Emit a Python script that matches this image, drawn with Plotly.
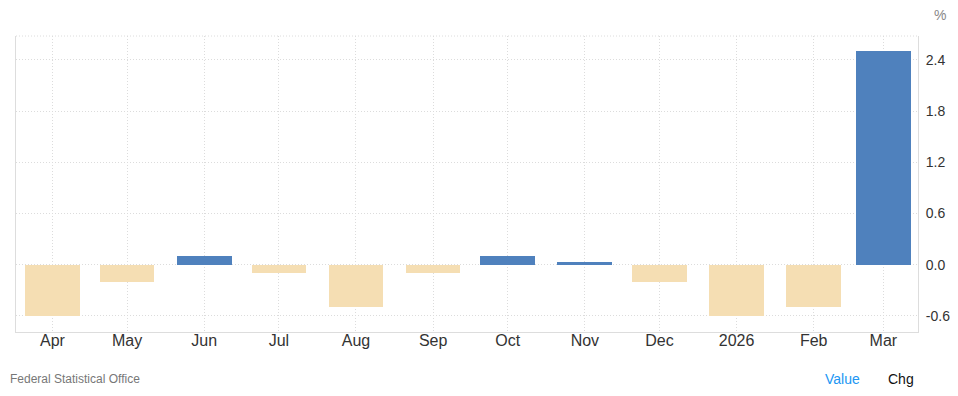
import plotly.graph_objects as go

dates = ["2025-04-01", "2025-05-01", "2025-06-01", "2025-07-01", "2025-08-01", "2025-09-01",
         "2025-10-01", "2025-11-01", "2025-12-01", "2026-01-01", "2026-02-01", "2026-03-01"]
tick_labels = ["Apr", "May", "Jun", "Jul", "Aug", "Sep", "Oct", "Nov", "Dec", "2026", "Feb", "Mar"]
values = [-0.6, -0.2, 0.1, -0.1, -0.5, -0.1, 0.1, 0.03, -0.2, -0.6, -0.5, 2.5]
y_ticks = [-0.6, 0.0, 0.6, 1.2, 1.8, 2.4]

POS = "#4f81bd"
NEG = "#f5deb3"
colors = [POS if v >= 0 else NEG for v in values]
GRID = "#dcdcdc"

fig = go.Figure()
fig.add_trace(go.Bar(
    x=dates, y=values, marker=dict(color=colors, line=dict(width=0)),
    width=22 * 86400000, hoverinfo="x+y",
))

fig.update_layout(
    width=942, height=380,
    margin=dict(l=8, r=32, t=28, b=56, autoexpand=False),
    paper_bgcolor="white", plot_bgcolor="white",
    font=dict(family="Liberation Sans, Arial, sans-serif", size=14, color="#333333"),
    showlegend=False,
    bargap=0,
)
fig.update_xaxes(
    type="date", automargin=False,
    range=["2025-03-17 08:00", "2026-03-14 22:00"],
    tickvals=dates, ticktext=tick_labels,
    showgrid=True, gridcolor=GRID, griddash="1px,2px", gridwidth=1,
    showline=True, linecolor="#dddddd", linewidth=1,
    ticks="", ticklabelstandoff=-6, tickfont=dict(size=16, color="#333333"),
    zeroline=False,
)
fig.update_yaxes(
    range=[-0.79, 2.68], automargin=False,
    side="right",
    tickvals=y_ticks, ticktext=[f"{v:.1f}" for v in y_ticks],
    showgrid=True, gridcolor=GRID, griddash="1px,2px", gridwidth=1,
    showline=True, linecolor="#dddddd", linewidth=1, mirror=True,
    zeroline=False, ticks="", ticklabelstandoff=4,
    tickfont=dict(size=14, color="#333333"),
)
# dotted top border
fig.add_shape(type="line", xref="paper", yref="paper", x0=0, x1=1, y0=1, y1=1,
              line=dict(color=GRID, width=1, dash="1px,2px"))

fig.add_annotation(text="%", xref="paper", yref="paper", x=1.015, y=1.0, yshift=21,
                   xanchor="left", yanchor="middle", showarrow=False,
                   font=dict(size=14, color="#888888"))
fig.add_annotation(text="Federal Statistical Office", xref="paper", yref="paper",
                   x=-8 / 902, y=0, yshift=-47, xanchor="left", yanchor="middle",
                   showarrow=False, font=dict(size=12, color="#777777"))
fig.add_annotation(text="Value", xref="paper", yref="paper", x=(823 - 16) / 902, y=0,
                   yshift=-47, xanchor="left", yanchor="middle", showarrow=False,
                   font=dict(size=14, color="#2196f3"))
fig.add_annotation(text="Chg", xref="paper", yref="paper", x=(886 - 16) / 902, y=0,
                   yshift=-47, xanchor="left", yanchor="middle", showarrow=False,
                   font=dict(size=14, color="#111111"))

fig.write_html("out.html")
